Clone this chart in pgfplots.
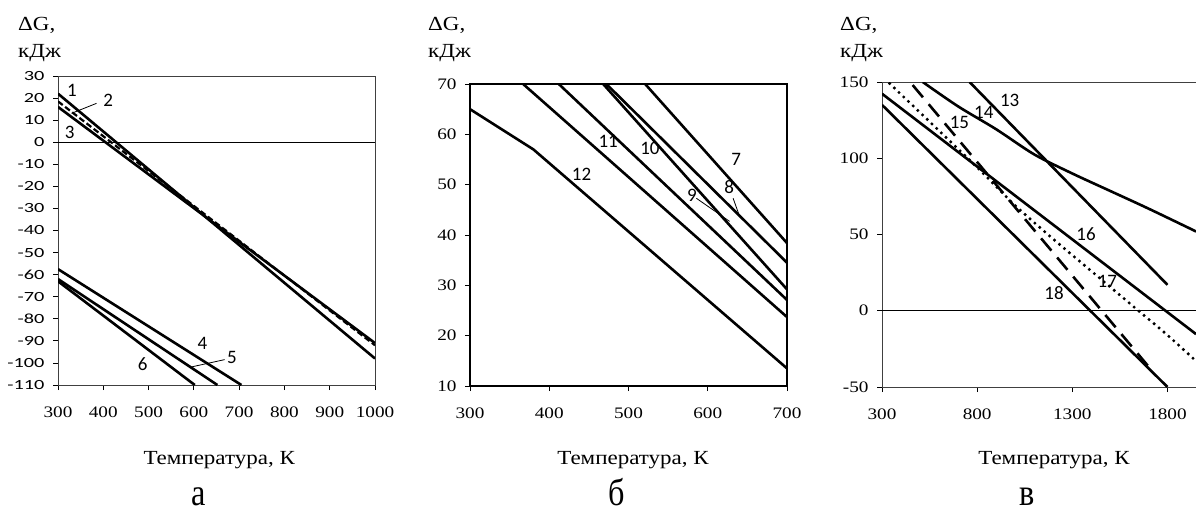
\documentclass[border=0pt]{standalone}
\usepackage{fontspec}
\setmainfont{Liberation Serif}
\newfontfamily\tickfont{Liberation Serif}[FakeStretch=1.2]
\newfontfamily\sanstick{Carlito}[FakeStretch=1.45]
\newfontfamily\numfont{Carlito}
\newfontfamily\labfont{Liberation Serif}[FakeStretch=1.15]
\newfontfamily\letterfont{Liberation Serif}[FakeStretch=0.85]
\usepackage{pgfplots}
\pgfplotsset{compat=1.18}

\pgfplotsset{
  panel/.style={
    scale only axis,
    tick align=outside, tick pos=left,
    major tick length=5pt,
    tick style={black, line width=0.8pt},
    axis line style={line width=0.8pt},
    /pgf/number format/assume math mode=true,
    /pgf/number format/1000 sep={},
    xticklabel style={font=\tickfont\fontsize{16}{18}\selectfont, yshift=-13pt},
    yticklabel style={font=\tickfont\fontsize{16}{18}\selectfont, xshift=-5pt},
  },
}
\tikzset{
  curve/.style={black, line width=2.6pt, line join=round},
  num/.style={font=\numfont\fontsize{19}{21}\selectfont, inner sep=0pt},
}

\begin{document}
\begin{tikzpicture}
\useasboundingbox (0pt,0pt) rectangle (1196pt,-513pt);

% --- panel a
\begin{axis}[panel, at={(58pt,-385pt)}, anchor=south west,
  width=317pt, height=309pt,
  xmin=300, xmax=1000, ymin=-110, ymax=30,
  xtick={300,400,...,1000}, ytick={-110,-100,...,30},
  axis line style={black!75},
  yticklabel style={font=\sanstick\fontsize{14}{16}\selectfont}]
\addplot [black, line width=0.8pt] coordinates {(300,0) (1000,0)};
\addplot [curve] coordinates {(300,22) (1000,-98)};
\addplot [curve, line width=2.2pt, dash pattern=on 6pt off 3pt] coordinates {(300,18.5) (1000,-92)};
\addplot [curve] coordinates {(300,16) (1000,-91)};
\addplot [curve] coordinates {(300,-57.5) (705,-110)};
\addplot [curve] coordinates {(300,-62) (652,-110)};
\addplot [curve] coordinates {(300,-63) (602,-110)};
\draw [line width=0.8pt] (axis cs:385,17.6) -- (axis cs:330,13.1);
\draw [line width=0.8pt] (axis cs:668,-98.5) -- (axis cs:595,-101.8);
\node [num] at (axis cs:331,23.4) {1};
\node [num] at (axis cs:411,19.2) {2};
\node [num] at (axis cs:326,4.5) {3};
\node [num] at (axis cs:619,-91.2) {4};
\node [num] at (axis cs:684,-97.6) {5};
\node [num] at (axis cs:487,-100.6) {6};
\end{axis}

% --- panel b
\begin{axis}[panel, at={(470pt,-386pt)}, anchor=south west,
  width=317pt, height=302pt,
  xmin=300, xmax=700, ymin=10, ymax=70,
  xtick={300,400,...,700}, ytick={10,20,...,70},
  axis line style={line width=1.2pt}]
\addplot [curve] coordinates {(521,70) (700,38.4)};
\addplot [curve] coordinates {(472,70) (700,34.5)};
\addplot [curve] coordinates {(468,70) (700,29.2)};
\addplot [curve] coordinates {(412,70) (700,27.1)};
\addplot [curve] coordinates {(367,70) (700,23.7)};
\addplot [curve] coordinates {(300,65) (380,57) (700,13.5)};
\draw [line width=0.8pt] (axis cs:632,47.3) -- (axis cs:639.5,44);
\draw [line width=0.8pt] (axis cs:585.6,47.3) -- (axis cs:627.6,42.7);
\node [num] at (axis cs:636,55) {7};
\node [num] at (axis cs:627,49.6) {8};
\node [num] at (axis cs:580,47.9) {9};
\node [num] at (axis cs:527,57.3) {10};
\node [num] at (axis cs:474.4,58.6) {11};
\node [num] at (axis cs:440.8,52) {12};
\end{axis}

% --- panel c
\begin{axis}[panel, at={(882pt,-387pt)}, anchor=south west,
  width=314pt, height=305pt,
  xmin=300, xmax=1950, ymin=-50, ymax=150,
  xtick={300,800,1300,1800}, ytick={-50,0,...,150},
  axis y line*=left, y axis line style={-},
  axis line style={black!75}]
\addplot [black, line width=1pt] coordinates {(300,0) (1950,0)};
\addplot [curve] coordinates {(760,150) (1800,17)};
\addplot [curve, smooth] coordinates {(514,150) (700,134) (900,119) (1100,102.5) (1300,90) (1500,78.5) (1700,67) (1950,52)};
\addplot [curve, dash pattern=on 16pt off 9pt] coordinates {(461,148) (1710,-38)};
\addplot [curve] coordinates {(300,142.3) (1950,-15.3)};
\addplot [black, line width=3.4pt, line cap=round, dash pattern=on 0pt off 6.5pt, smooth] coordinates {(340,149) (550,124) (800,94) (1000,69) (1200,47) (1400,26) (1600,5) (1800,-16) (1950,-33)};
\addplot [curve] coordinates {(300,135) (1800,-50)};
\node [num] at (axis cs:971,137.9) {13};
\node [num] at (axis cs:835,130) {14};
\node [num] at (axis cs:707,123.7) {15};
\node [num] at (axis cs:1372,50.2) {16};
\node [num] at (axis cs:1484,19.5) {17};
\node [num] at (axis cs:1204,11.8) {18};
\end{axis}

% --- titles and captions
\foreach \xx/\tx/\lx/\lt in {18/219.2/199/а, 428/633/617/б, 840/1054/1027/в} {
  \node [anchor=base west, inner sep=0pt, font=\labfont\fontsize{20}{22}\selectfont] at (\xx pt,-30.7pt) {ΔG,};
  \node [anchor=base west, inner sep=0pt, font=\labfont\fontsize{20}{22}\selectfont] at (\xx pt,-58pt) {кДж};
  \node [anchor=base, inner sep=0pt, font=\labfont\fontsize{20}{22}\selectfont] at (\tx pt,-464pt) {Температура, К};
  \node [anchor=base, inner sep=0pt, font=\letterfont\fontsize{38}{42}\selectfont] at (\lx pt,-505pt) {\lt};
}
\end{tikzpicture}
\end{document}
